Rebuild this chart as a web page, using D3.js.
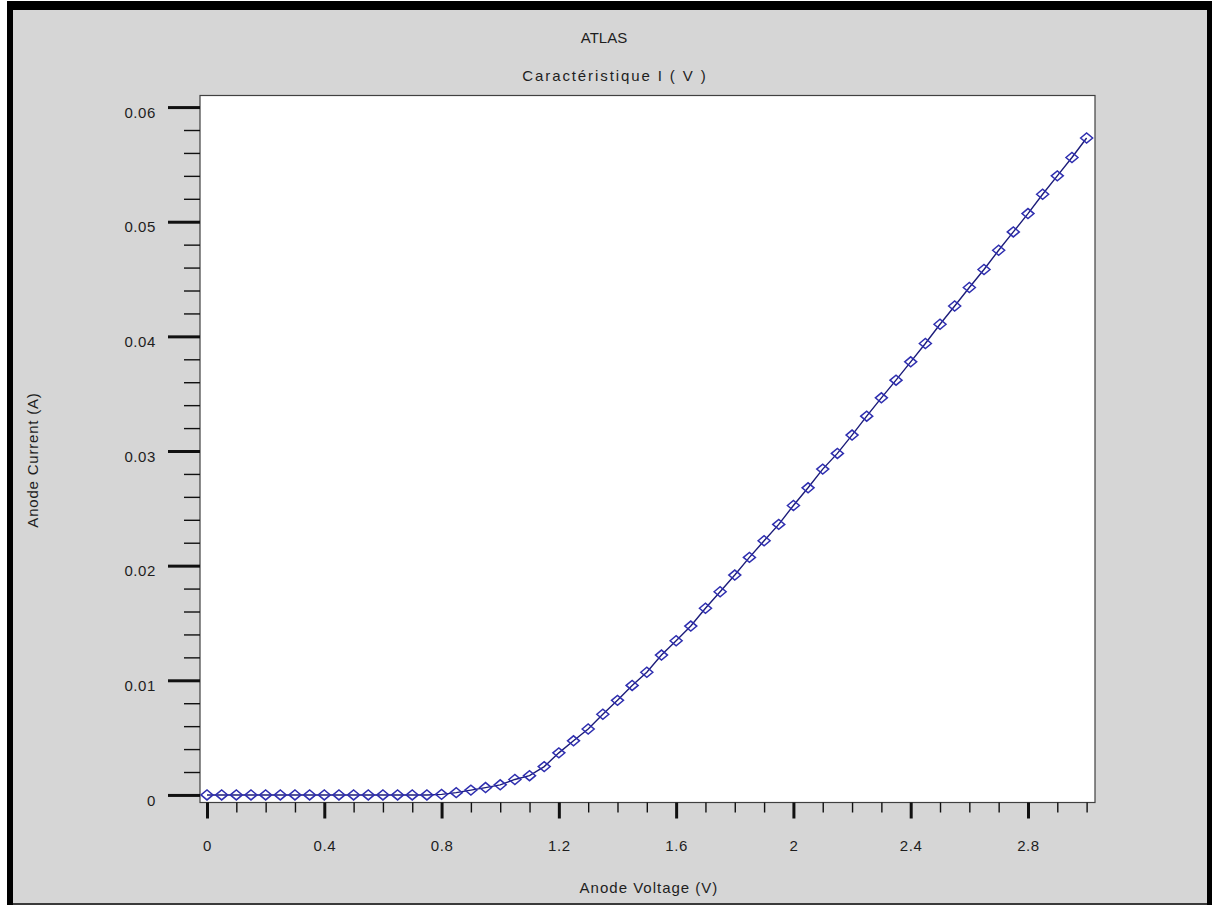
<!DOCTYPE html>
<html>
<head>
<meta charset="utf-8">
<script src="https://cdn.jsdelivr.net/npm/d3@7"></script>
<style>
  html, body { margin: 0; padding: 0; background: #ffffff; }
  svg { display: block; }
  text { font-family: "Liberation Sans", Arial, sans-serif; fill: #1e1e1e; }
</style>
</head>
<body>
<svg id="chart" width="1212" height="905"></svg>
<script>
// Anode voltage sweep (V)
const voltage = [
  0.00, 0.05, 0.10, 0.15, 0.20, 0.25, 0.30, 0.35, 0.40, 0.45,
  0.50, 0.55, 0.60, 0.65, 0.70, 0.75, 0.80, 0.85, 0.90, 0.95,
  1.00, 1.05, 1.10, 1.15, 1.20, 1.25, 1.30, 1.35, 1.40, 1.45,
  1.50, 1.55, 1.60, 1.65, 1.70, 1.75, 1.80, 1.85, 1.90, 1.95,
  2.00, 2.05, 2.10, 2.15, 2.20, 2.25, 2.30, 2.35, 2.40, 2.45,
  2.50, 2.55, 2.60, 2.65, 2.70, 2.75, 2.80, 2.85, 2.90, 2.95,
  3.00
];

// Anode current (A)
const current = [
  0, 0, 0, 0, 0, 0, 0, 0, 0, 0,
  0, 0, 0, 0, 0, 0, 0.00005, 0.0002, 0.00042, 0.00064,
  0.00088, 0.00135, 0.00168, 0.00247, 0.00367, 0.00472, 0.00575, 0.00704, 0.00825, 0.00955,
  0.0107, 0.0122, 0.01345, 0.01473, 0.01628, 0.01772, 0.01918, 0.02072, 0.02217, 0.0236,
  0.02525, 0.02679, 0.02842, 0.02979, 0.03139, 0.03304, 0.03464, 0.03618, 0.03778, 0.03938,
  0.04106, 0.04265, 0.04426, 0.04583, 0.04751, 0.04911, 0.05071, 0.0524, 0.054, 0.0556,
  0.0573
];

const xMajorTicks = [0, 0.4, 0.8, 1.2, 1.6, 2, 2.4, 2.8];
const xMinorTicks = [0.1, 0.2, 0.3, 0.5, 0.6, 0.7, 0.9, 1.0, 1.1, 1.3, 1.4, 1.5, 1.7, 1.8, 1.9,
                     2.1, 2.2, 2.3, 2.5, 2.6, 2.7, 2.9, 3.0];
const yMajorTicks = [0, 0.01, 0.02, 0.03, 0.04, 0.05, 0.06];
const yMinorTicks = [0.002, 0.004, 0.006, 0.008, 0.012, 0.014, 0.016, 0.018,
                     0.022, 0.024, 0.026, 0.028, 0.032, 0.034, 0.036, 0.038,
                     0.042, 0.044, 0.046, 0.048, 0.052, 0.054, 0.056, 0.058];

const titleText = "ATLAS";
const subtitleText = "Caractéristique I ( V )";
const xTitle = "Anode Voltage (V)";
const yTitle = "Anode Current (A)";

const svg = d3.select("#chart");

// window frame: grey panel with dark borders
svg.append("rect").attr("x", 0).attr("y", 0).attr("width", 1212).attr("height", 905).attr("fill", "#ffffff");
svg.append("rect").attr("x", 7).attr("y", 1).attr("width", 1205).attr("height", 904).attr("fill", "#000000");
svg.append("rect").attr("x", 13).attr("y", 10).attr("width", 1194).attr("height", 893).attr("fill", "#d6d6d6");
svg.append("rect").attr("x", 13).attr("y", 903).attr("width", 1194).attr("height", 2).attr("fill", "#3a3a3a");

const plot = { left: 200, right: 1095, top: 95.5, bottom: 802.5 };

const x = d3.scaleLinear().domain([-0.0239, 3.0286]).range([plot.left, plot.right]);
const y = d3.scaleLinear().domain([-0.00066, 0.06101]).range([plot.bottom, plot.top]);

// plotting area
svg.append("rect")
  .attr("x", plot.left).attr("y", plot.top)
  .attr("width", plot.right - plot.left).attr("height", plot.bottom - plot.top)
  .attr("fill", "#ffffff").attr("stroke", "#404040").attr("stroke-width", 1.2);

// x axis: ticks hang below the frame
const xMajor = d3.axisBottom(x).tickValues(xMajorTicks).tickSize(16).tickPadding(22)
  .tickFormat(d => d3.format("")(+d.toFixed(1)));
const xMinor = d3.axisBottom(x).tickValues(xMinorTicks).tickSize(10).tickFormat("");

const gxMinor = svg.append("g").attr("transform", `translate(0,${plot.bottom})`).call(xMinor);
const gxMajor = svg.append("g").attr("transform", `translate(0,${plot.bottom})`).call(xMajor);
[gxMinor, gxMajor].forEach(g => g.select(".domain").remove());
gxMinor.selectAll(".tick line").attr("stroke", "#111").attr("stroke-width", 1.4);
gxMajor.selectAll(".tick line").attr("stroke", "#111").attr("stroke-width", 3);
gxMajor.selectAll(".tick text").attr("font-size", 15).attr("fill", "#1e1e1e")
  .attr("letter-spacing", "0.6px")
  .attr("font-family", "'Liberation Sans', Arial, sans-serif");

// y axis: ticks stick out to the left
const yMajor = d3.axisLeft(y).tickValues(yMajorTicks).tickSize(32).tickPadding(12)
  .tickFormat(d => d3.format("")(+d.toFixed(2)));
const yMinor = d3.axisLeft(y).tickValues(yMinorTicks).tickSize(16).tickFormat("");

const gyMinor = svg.append("g").attr("transform", `translate(${plot.left},0)`).call(yMinor);
const gyMajor = svg.append("g").attr("transform", `translate(${plot.left},0)`).call(yMajor);
[gyMinor, gyMajor].forEach(g => g.select(".domain").remove());
gyMinor.selectAll(".tick line").attr("stroke", "#111").attr("stroke-width", 1.4);
gyMajor.selectAll(".tick line").attr("stroke", "#111").attr("stroke-width", 3);
gyMajor.selectAll(".tick text").attr("font-size", 15).attr("fill", "#1e1e1e")
  .attr("dy", "0.68em")
  .attr("letter-spacing", "0.6px")
  .attr("font-family", "'Liberation Sans', Arial, sans-serif");

// I(V) curve
const points = voltage.map((v, i) => ({ v, a: current[i] }));

svg.append("path")
  .datum(points)
  .attr("fill", "none")
  .attr("stroke", "#1c1c7a")
  .attr("stroke-width", 1.4)
  .attr("d", d3.line().x(d => x(d.v)).y(d => y(d.a)));

const diamond = "M-6,0L0,-5L6,0L0,5Z";
svg.append("g").selectAll("path")
  .data(points)
  .join("path")
  .attr("transform", d => `translate(${x(d.v)},${y(d.a)})`)
  .attr("d", diamond)
  .attr("fill", "none")
  .attr("stroke", "#2f2fb0")
  .attr("stroke-width", 1.5);

// titles
svg.append("text").attr("x", 604).attr("y", 43).attr("text-anchor", "middle")
  .attr("font-size", 15).attr("letter-spacing", "0px").text(titleText);
svg.append("text").attr("x", 615).attr("y", 81).attr("text-anchor", "middle")
  .attr("font-size", 15).attr("letter-spacing", "1.9px").text(subtitleText);
svg.append("text").attr("x", 649).attr("y", 893).attr("text-anchor", "middle")
  .attr("font-size", 15).attr("letter-spacing", "1px").text(xTitle);
svg.append("text")
  .attr("transform", "translate(38,460) rotate(-90)")
  .attr("text-anchor", "middle")
  .attr("font-size", 15).attr("letter-spacing", "0.8px").text(yTitle);
</script>
</body>
</html>
